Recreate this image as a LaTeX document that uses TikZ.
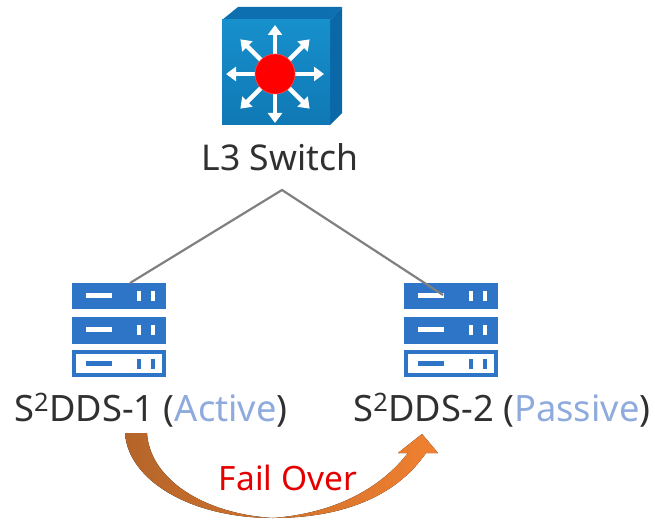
\documentclass[tikz,border=0pt]{standalone}
\usepackage{fontspec}
\setmainfont{Noto Sans}
\usetikzlibrary{arrows.meta}
\definecolor{srv}{HTML}{2E75C8}
\definecolor{lbl}{HTML}{8FAADC}
\definecolor{txt}{HTML}{303030}
\definecolor{swfront}{HTML}{1790CC}
\definecolor{swfrontb}{HTML}{0F78B4}
\definecolor{swtop}{HTML}{0E6FB0}
\definecolor{swside}{HTML}{0B68A8}
\definecolor{brownL}{HTML}{B5652A}
\definecolor{orangeR}{HTML}{F08030}
\tikzset{
 lab/.style={inner sep=0pt,anchor=base,font=\fontsize{35.5pt}{40pt}\selectfont,text=txt},
 srvlab/.style={lab,font=\fontsize{36.3pt}{40pt}\selectfont},
 link/.style={draw=black!50,line width=2.2pt},
 ray/.style={draw=white,line width=4.5pt,-{Triangle[width=14pt,length=10pt]}},
 srvf/.style={fill=srv,draw=none},
 srvw/.style={fill=white,draw=none},
}
\newcommand{\serverstack}[2]{%
 \begin{scope}[shift={(#1,#2)}]
  \fill[srvf] (0,0) rectangle (94,26);
  \fill[srvw] (14,10) rectangle (40,15);
  \fill[srvw] (65,8) rectangle (69,18);
  \fill[srvw] (79,8) rectangle (83,18);
  \fill[srvf] (0,34) rectangle (94,61);
  \fill[srvw] (14,44) rectangle (40,49);
  \fill[srvw] (65,42) rectangle (69,52);
  \fill[srvw] (79,42) rectangle (83,52);
  \fill[srvf] (0,67) rectangle (94,94);
  \fill[srvw] (4,71) rectangle (90,90);
  \fill[srvf] (14,78) rectangle (40,83);
  \fill[srvf] (65,76) rectangle (69,86);
  \fill[srvf] (79,76) rectangle (83,86);
 \end{scope}}
\begin{document}
\begin{tikzpicture}[x=1pt,y=-1pt]
\useasboundingbox (0,0) rectangle (655,529);
% switch
\fill[swtop] (222,20) -- (238,7) -- (342,7) -- (330,20) -- cycle;
\fill[swside] (330,20) -- (342,7) -- (342,113) -- (330,125) -- cycle;
\fill[top color=swfront,bottom color=swfrontb] (222,20) rectangle (330,125);
\coordinate (hub) at (275,74);
\foreach \a in {0,45,...,315}{
  \draw[ray] (hub) ++(\a:17) -- ++(\a:32);
}
\fill[red,draw=red!70!white,line width=.6pt] (hub) circle (20);
\node[lab] (sw) at (280,171) {L3 Switch};
% links
\serverstack{72}{283}
\serverstack{404}{283}
\coordinate (apex) at (282,190);
\coordinate (s1) at (130,283);
\coordinate (s2) at (443,295);
\draw[link] (s1) -- (apex) -- (s2);
\node[srvlab] (a) at (151,421) {S\textsuperscript{2}DDS-1 (\textcolor{lbl}{Active})};
\node[srvlab] (b) at (502,421) {S\textsuperscript{2}DDS-2 (\textcolor{lbl}{Passive})};
% fail over arrow
\fill[left color=brownL,right color=orangeR]
 (125,433) .. controls (128,480) and (190,518) .. (273,518)
 .. controls (340,518) and (395,498) .. (426,453)
 -- (438,453) -- (422,434) -- (398,453) -- (408,453)
 .. controls (375,495) and (325,514) .. (273,518)
 .. controls (205,514) and (150,480) .. (147,433) -- cycle;
\node[lab,text=red!90!black,font=\fontsize{33.5pt}{38pt}\selectfont] (f) at (288,490) {Fail Over};
\end{tikzpicture}
\end{document}
